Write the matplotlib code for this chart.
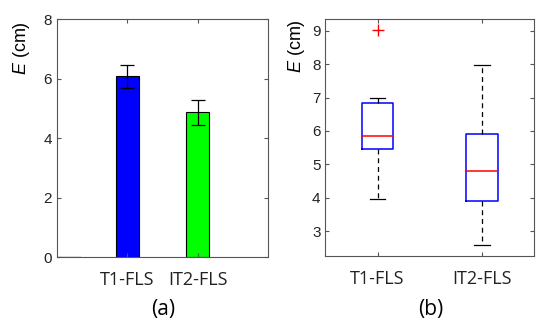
import numpy as np
import matplotlib.pyplot as plt

# data
labels = ['T1-FLS', 'IT2-FLS']
bar_mean = [6.07, 4.87]
bar_err = [0.38, 0.42]
bar_colors = ['#0000ff', '#00ff00']

box_whislo = [3.95, 2.59]
box_q1 = [5.45, 3.91]
box_med = [5.85, 4.80]
box_q3 = [6.84, 5.90]
box_whishi = [7.00, 7.97]
box_fliers = [[9.03], []]

plt.rcParams['font.family'] = ['Liberation Sans', 'DejaVu Sans']
plt.rcParams['mathtext.fontset'] = 'custom'
plt.rcParams['mathtext.it'] = 'Liberation Sans:italic'
plt.rcParams['mathtext.rm'] = 'Liberation Sans'

fig = plt.figure(figsize=(5.5, 3.3), dpi=100)
ax1 = fig.add_axes([0.1036, 0.2212, 0.3836, 0.7212])
ax2 = fig.add_axes([0.5915, 0.2252, 0.38, 0.7173])

edge = '#555555'

def matlab_style(ax):
    for s in ax.spines.values():
        s.set_color(edge)
        s.set_linewidth(0.8)
    ax.tick_params(direction='in', top=True, right=True, length=3,
                   color=edge, labelsize=11, width=0.8, labelcolor='#222222')
    for t in ax.get_xticklabels():
        t.set_family(['Open Sans', 'DejaVu Sans'])
        t.set_fontsize(13)

# (a) bars
pos = np.arange(1, len(labels) + 1)
ax1.bar(pos, bar_mean, width=0.32, color=bar_colors, edgecolor='black', linewidth=0.8)
ax1.errorbar(pos, bar_mean, yerr=bar_err, fmt='none', ecolor='black',
             elinewidth=0.9, capsize=5, capthick=0.9)
ax1.plot([0, 0.33], [0, 0], color='black', linewidth=0.9)
ax1.set_xlim(0, 3)
ax1.set_ylim(0, 8)
ax1.set_yticks([0, 2, 4, 6, 8])
ax1.set_xticks(pos)
ax1.set_xticklabels(labels)
ax1.set_ylabel('$E$ (cm)', fontsize=13)
ax1.yaxis.set_label_coords(-0.118, 0.88)
matlab_style(ax1)

# (b) boxplot
stats = []
for i in range(len(labels)):
    stats.append(dict(med=box_med[i], q1=box_q1[i], q3=box_q3[i],
                      whislo=box_whislo[i], whishi=box_whishi[i],
                      fliers=box_fliers[i]))
ax2.bxp(stats, positions=pos, widths=0.3, showfliers=True,
        boxprops=dict(color='#0000ff', linewidth=1.1),
        medianprops=dict(color='#ff0000', linewidth=1.1),
        whiskerprops=dict(color='black', linestyle=(0, (4, 3)), linewidth=0.9),
        capprops=dict(color='black', linewidth=0.9),
        flierprops=dict(marker='+', markeredgecolor='#ff0000', markersize=8,
                        markeredgewidth=1.0))
ax2.set_xlim(0.5, 2.5)
ax2.set_ylim(2.26, 9.36)
ax2.set_yticks([3, 4, 5, 6, 7, 8, 9])
ax2.set_xticks(pos)
ax2.set_xticklabels(labels)
ax2.set_ylabel('$E$ (cm)', fontsize=13)
ax2.yaxis.set_label_coords(-0.086, 0.885)
matlab_style(ax2)

for ax in (ax1, ax2):
    ax.tick_params(axis='x', pad=10)

fig.text(163 / 550, 1 - 310 / 330, '(a)', ha='center', va='center',
         fontsize=15, family=['Open Sans', 'DejaVu Sans'])
fig.text(431 / 550, 1 - 310 / 330, '(b)', ha='center', va='center',
         fontsize=15, family=['Open Sans', 'DejaVu Sans'])

fig.savefig('out.png', dpi=100)
